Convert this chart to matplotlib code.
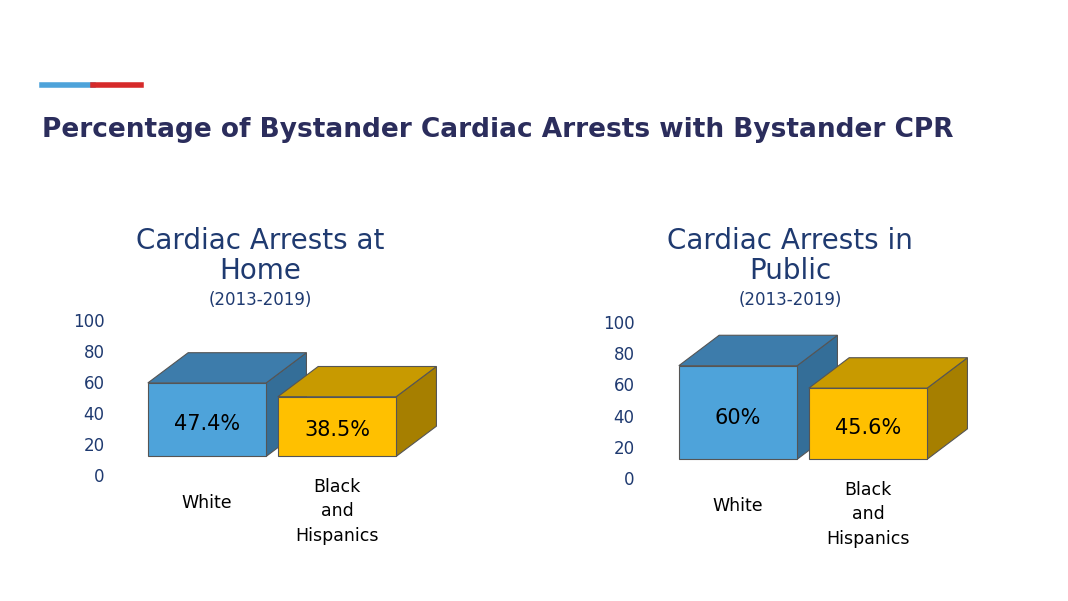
import matplotlib
matplotlib.use('Agg')
import matplotlib.pyplot as plt
from matplotlib.patches import Polygon, Rectangle

categories = ["White", "Black\nand\nHispanics"]
home_values = [47.4, 38.5]
home_labels = ["47.4%", "38.5%"]
public_values = [60, 45.6]
public_labels = ["60%", "45.6%"]
yticks = [0, 20, 40, 60, 80, 100]

W, H = 1068, 601
NAVY = "#1F3A70"
FRONT = ["#4EA3DA", "#FFC000"]
TOP = ["#3D7CAB", "#C89A00"]
SIDE = ["#346E98", "#A67F00"]
BASE = 12


def draw_chart(fig, px_left, px_right, px_zero, px_hundred, cx0, title, values, labels):
    # axes in figure pixels; x scale: 130 px per category
    ax = fig.add_axes([px_left / W, (H - px_zero) / H, (px_right - px_left) / W,
                       (px_zero - px_hundred) / H])
    ppu = 130
    ax.set_xlim(-(cx0 - px_left) / ppu, (px_right - cx0) / ppu)
    ax.set_ylim(0, 100)
    for s in ax.spines.values():
        s.set_visible(False)
    ax.set_xticks([])
    ax.set_yticks(yticks)
    ax.tick_params(axis="y", length=0, labelsize=12, labelcolor=NAVY, pad=4)
    ax.patch.set_alpha(0)

    w = 0.91
    dx = 0.31
    dy = 19.5
    for i, v in enumerate(values):
        x0, x1 = i - w / 2, i + w / 2
        y0, y1 = BASE, BASE + v
        kw = dict(edgecolor="#555555", lw=0.8, clip_on=False)
        ax.add_patch(Polygon([(x1, y0), (x1 + dx, y0 + dy), (x1 + dx, y1 + dy), (x1, y1)],
                             facecolor=SIDE[i], **kw))
        ax.add_patch(Polygon([(x0, y1), (x1, y1), (x1 + dx, y1 + dy), (x0 + dx, y1 + dy)],
                             facecolor=TOP[i], **kw))
        ax.add_patch(Rectangle((x0, y0), w, v, facecolor=FRONT[i], **kw))
        ax.text(i, y0 + v * 0.44, labels[i], ha="center", va="center", fontsize=15,
                color="black")
    ax.text(0, -18, categories[0], ha="center", va="center", fontsize=12.5, clip_on=False)
    ax.text(1, -2, categories[1], ha="center", va="top", fontsize=12.5,
            linespacing=1.45, clip_on=False)

    tx = (px_left + px_right) / 2 / W
    fig.text(tx, (H - 256) / H, title, ha="center", va="center", fontsize=20,
             color=NAVY, linespacing=1.05)
    fig.text(tx, (H - 300) / H, "(2013-2019)", ha="center", va="center", fontsize=12,
             color=NAVY)


fig = plt.figure(figsize=(W / 100, H / 100), dpi=100)
fig.patch.set_facecolor("white")

# accent bar
fig.add_artist(plt.Line2D([42 / W, 93 / W], [(H - 85) / H] * 2, color="#4EA3DA", lw=4))
fig.add_artist(plt.Line2D([93 / W, 141 / W], [(H - 85) / H] * 2, color="#D62A2A", lw=4))
fig.text(42 / W, (H - 130) / H, "Percentage of Bystander Cardiac Arrests with Bystander CPR",
         ha="left", va="center", fontsize=19, fontweight="bold", color="#2B2D5C")

draw_chart(fig, 110, 410, 475, 320, 207, "Cardiac Arrests at\nHome", home_values, home_labels)
draw_chart(fig, 640, 940, 478, 322, 738, "Cardiac Arrests in\nPublic", public_values, public_labels)

fig.savefig("out.png", dpi=100)
